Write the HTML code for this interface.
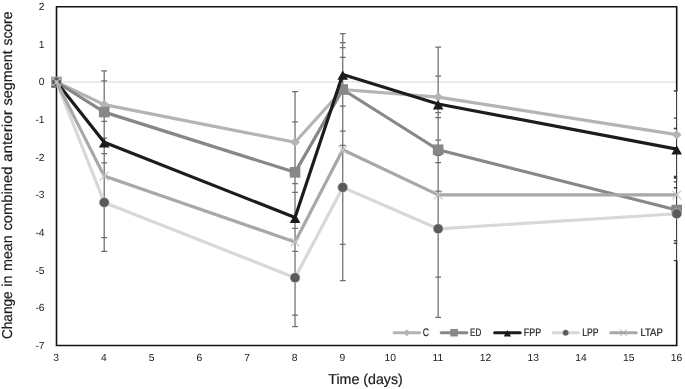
<!DOCTYPE html>
<html lang="en">
<head>
<meta charset="utf-8">
<title>Change in mean combined anterior segment score</title>
<style>
html,body{margin:0;padding:0;background:#fff;}
body{width:685px;height:389px;overflow:hidden;}
svg{display:block;will-change:transform;}
text{font-family:"Liberation Sans", "DejaVu Sans", sans-serif;fill:#1a1a1a;text-rendering:geometricPrecision;}
</style>
</head>
<body>
<svg width="685" height="389" viewBox="0 0 685 389">
<rect x="0" y="0" width="685" height="389" fill="#ffffff"/>
<defs><clipPath id="plot"><rect x="56.5" y="6.7" width="620.8" height="338.8"/></clipPath></defs>
<line x1="56.5" y1="81.99" x2="676.7" y2="81.99" stroke="#d6d6d6" stroke-width="1.1"/>
<path d="M676.7 91.2V6.7H56.5V345.5H676.7V260.4" fill="none" stroke="#111111" stroke-width="1.6" stroke-linejoin="miter"/>
<g stroke="#6e6e6e" stroke-width="1.25" fill="none" clip-path="url(#plot)">
<path d="M104.21 70.9V251.4M101.31 70.9H107.11M101.31 80.8H107.11M101.31 121.4H107.11M101.31 138.2H107.11M101.31 153.6H107.11M101.31 162.9H107.11M101.31 237.7H107.11M101.31 251.4H107.11"/>
<path d="M295.04 91.7V326.7M292.14 91.7H297.94M292.14 121.9H297.94M292.14 183.7H297.94M292.14 192.3H297.94M292.14 228.4H297.94M292.14 251.3H297.94M292.14 315H297.94M292.14 326.7H297.94"/>
<path d="M342.75 33.5V280.5M339.85 33.5H345.65M339.85 42.5H345.65M339.85 47.6H345.65M339.85 57.4H345.65M339.85 106H345.65M339.85 131.2H345.65M339.85 145.4H345.65M339.85 244.3H345.65M339.85 280.5H345.65"/>
<path d="M438.16 47.1V317.4M435.26 47.1H441.06M435.26 76.2H441.06M435.26 112.5H441.06M435.26 117.5H441.06M435.26 140H441.06M435.26 155.3H441.06M435.26 162.5H441.06M435.26 191H441.06M435.26 277H441.06M435.26 317.4H441.06"/>
<path d="M676.7 91V260.6M673.8 91H679.6M673.8 118.1H679.6M673.8 128.5H679.6M673.8 176.5H679.6M673.8 178H679.6M673.8 181.9H679.6M673.8 187.7H679.6M673.8 240.6H679.6M673.8 243.2H679.6M673.8 260.6H679.6" stroke="#3e3e3e" stroke-width="1.35"/>
</g>
<g><polyline points="56.5,81.99 104.21,104.58 295.04,142.22 342.75,89.52 438.16,97.05 676.7,134.69" fill="none" stroke="#b4b4b4" stroke-width="3.2" stroke-linejoin="round" stroke-linecap="round"/>
<path d="M56.5 77.19L61.3 81.99L56.5 86.79L51.7 81.99Z" fill="#b4b4b4"/>
<path d="M104.21 99.78L109.01 104.58L104.21 109.38L99.41 104.58Z" fill="#b4b4b4"/>
<path d="M295.04 137.42L299.84 142.22L295.04 147.02L290.24 142.22Z" fill="#b4b4b4"/>
<path d="M342.75 84.72L347.55 89.52L342.75 94.32L337.95 89.52Z" fill="#b4b4b4"/>
<path d="M438.16 92.25L442.96 97.05L438.16 101.85L433.36 97.05Z" fill="#b4b4b4"/>
<path d="M676.7 129.89L681.5 134.69L676.7 139.49L671.9 134.69Z" fill="#b4b4b4"/>
</g>
<g><polyline points="56.5,81.99 104.21,112.1 295.04,172.34 342.75,89.52 438.16,149.75 676.7,209.98" fill="none" stroke="#878787" stroke-width="3.2" stroke-linejoin="round" stroke-linecap="round"/>
<rect x="51.2" y="76.69" width="10.6" height="10.6" fill="#878787"/>
<rect x="98.91" y="106.8" width="10.6" height="10.6" fill="#878787"/>
<rect x="289.74" y="167.04" width="10.6" height="10.6" fill="#878787"/>
<rect x="337.45" y="84.22" width="10.6" height="10.6" fill="#878787"/>
<rect x="432.86" y="144.45" width="10.6" height="10.6" fill="#878787"/>
<rect x="671.4" y="204.68" width="10.6" height="10.6" fill="#878787"/>
</g>
<g><polyline points="56.5,81.99 104.21,142.22 295.04,217.51 342.75,74.46 438.16,104.01 676.7,149.18" fill="none" stroke="#1c1c1c" stroke-width="3.2" stroke-linejoin="round" stroke-linecap="round"/>
<path d="M56.5 77.99L61.8 87.39L51.2 87.39Z" fill="#1c1c1c"/>
<path d="M104.21 138.22L109.51 147.62L98.91 147.62Z" fill="#1c1c1c"/>
<path d="M295.04 213.51L300.34 222.91L289.74 222.91Z" fill="#1c1c1c"/>
<path d="M342.75 70.46L348.05 79.86L337.45 79.86Z" fill="#1c1c1c"/>
<path d="M438.16 100.01L443.46 109.41L432.86 109.41Z" fill="#1c1c1c"/>
<path d="M676.7 145.18L682 154.58L671.4 154.58Z" fill="#1c1c1c"/>
</g>
<g><polyline points="56.5,81.99 104.21,202.45 295.04,277.74 342.75,187.39 438.16,228.8 676.7,213.74" fill="none" stroke="#d8d8d8" stroke-width="3.2" stroke-linejoin="round" stroke-linecap="round"/>
<circle cx="56.5" cy="81.99" r="5" fill="#5a5a5a" stroke="#d8d8d8" stroke-width="0.6"/>
<circle cx="104.21" cy="202.45" r="5" fill="#5a5a5a" stroke="#d8d8d8" stroke-width="0.6"/>
<circle cx="295.04" cy="277.74" r="5" fill="#5a5a5a" stroke="#d8d8d8" stroke-width="0.6"/>
<circle cx="342.75" cy="187.39" r="5" fill="#5a5a5a" stroke="#d8d8d8" stroke-width="0.6"/>
<circle cx="438.16" cy="228.8" r="5" fill="#5a5a5a" stroke="#d8d8d8" stroke-width="0.6"/>
<circle cx="676.7" cy="213.74" r="5" fill="#5a5a5a" stroke="#d8d8d8" stroke-width="0.6"/>
</g>
<g><polyline points="56.5,81.99 104.21,176.1 295.04,241.98 342.75,149.75 438.16,194.92 676.7,194.92" fill="none" stroke="#a8a8a8" stroke-width="3.2" stroke-linejoin="round" stroke-linecap="round"/>
<path d="M52.1 77.59L60.9 86.39M60.9 77.59L52.1 86.39" stroke="#c6c6c6" stroke-width="1.1" fill="none"/>
<path d="M99.81 171.7L108.61 180.5M108.61 171.7L99.81 180.5" stroke="#c6c6c6" stroke-width="1.1" fill="none"/>
<path d="M290.64 237.58L299.44 246.38M299.44 237.58L290.64 246.38" stroke="#c6c6c6" stroke-width="1.1" fill="none"/>
<path d="M338.35 145.35L347.15 154.15M347.15 145.35L338.35 154.15" stroke="#c6c6c6" stroke-width="1.1" fill="none"/>
<path d="M433.76 190.52L442.56 199.32M442.56 190.52L433.76 199.32" stroke="#c6c6c6" stroke-width="1.1" fill="none"/>
<path d="M672.3 190.52L681.1 199.32M681.1 190.52L672.3 199.32" stroke="#c6c6c6" stroke-width="1.1" fill="none"/>
</g>
<g font-size="10.3" text-anchor="end">
<text x="44.6" y="10">2</text>
<text x="44.6" y="47.64">1</text>
<text x="44.6" y="85.29">0</text>
<text x="44.6" y="122.93">-1</text>
<text x="44.6" y="160.58">-2</text>
<text x="44.6" y="198.22">-3</text>
<text x="44.6" y="235.87">-4</text>
<text x="44.6" y="273.51">-5</text>
<text x="44.6" y="311.16">-6</text>
<text x="44.6" y="348.8">-7</text>
</g>
<g font-size="10.3" text-anchor="middle">
<text x="56.2" y="361.2">3</text>
<text x="103.91" y="361.2">4</text>
<text x="151.62" y="361.2">5</text>
<text x="199.32" y="361.2">6</text>
<text x="247.03" y="361.2">7</text>
<text x="294.74" y="361.2">8</text>
<text x="342.45" y="361.2">9</text>
<text x="390.15" y="361.2">10</text>
<text x="437.86" y="361.2">11</text>
<text x="485.57" y="361.2">12</text>
<text x="533.28" y="361.2">13</text>
<text x="580.98" y="361.2">14</text>
<text x="628.69" y="361.2">15</text>
<text x="676.4" y="361.2">16</text>
</g>
<text x="365.5" y="383.8" font-size="14.3" text-anchor="middle" textLength="74.5" stroke="#1a1a1a" stroke-width="0.2" lengthAdjust="spacingAndGlyphs">Time (days)</text>
<text transform="translate(12.4 339.5) rotate(-90)" font-size="14.3" stroke="#1a1a1a" stroke-width="0.2"><tspan x="0.5" textLength="47.6" lengthAdjust="spacingAndGlyphs">Change</tspan> <tspan x="52.72" textLength="11.1" lengthAdjust="spacingAndGlyphs">in</tspan> <tspan x="68.45" textLength="35.89" lengthAdjust="spacingAndGlyphs">mean</tspan> <tspan x="108.96" textLength="63.97" lengthAdjust="spacingAndGlyphs">combined</tspan> <tspan x="177.55" textLength="51.76" lengthAdjust="spacingAndGlyphs">anterior</tspan> <tspan x="233.93" textLength="55.37" lengthAdjust="spacingAndGlyphs">segment</tspan> <tspan x="293.93" textLength="34.07" lengthAdjust="spacingAndGlyphs">score</tspan></text>
<line x1="394.1" y1="332.7" x2="419.7" y2="332.7" stroke="#b4b4b4" stroke-width="3" stroke-linecap="round"/>
<path d="M406.9 329.24L410.36 332.7L406.9 336.16L403.44 332.7Z" fill="#b4b4b4"/>
<text x="422.7" y="336.4" font-size="10.9" textLength="6.2" lengthAdjust="spacingAndGlyphs" stroke="#1a1a1a" stroke-width="0.2">C</text>
<line x1="441.2" y1="332.7" x2="466.9" y2="332.7" stroke="#878787" stroke-width="3" stroke-linecap="round"/>
<rect x="450.29" y="328.94" width="7.53" height="7.53" fill="#878787"/>
<text x="470" y="336.4" font-size="10.9" textLength="11.3" lengthAdjust="spacingAndGlyphs" stroke="#1a1a1a" stroke-width="0.2">ED</text>
<line x1="494.6" y1="332.7" x2="520.2" y2="332.7" stroke="#1c1c1c" stroke-width="3" stroke-linecap="round"/>
<path d="M507.4 329.9L511.11 336.48L503.69 336.48Z" fill="#1c1c1c"/>
<text x="523.8" y="336.4" font-size="10.9" textLength="17.3" lengthAdjust="spacingAndGlyphs" stroke="#1a1a1a" stroke-width="0.2">FPP</text>
<line x1="553.1" y1="332.7" x2="578.2" y2="332.7" stroke="#d8d8d8" stroke-width="3" stroke-linecap="round"/>
<circle cx="565.65" cy="332.7" r="3" fill="#5a5a5a" stroke="#d8d8d8" stroke-width="0.36"/>
<text x="582.3" y="336.4" font-size="10.9" textLength="16.3" lengthAdjust="spacingAndGlyphs" stroke="#1a1a1a" stroke-width="0.2">LPP</text>
<line x1="610.7" y1="332.7" x2="636.3" y2="332.7" stroke="#a8a8a8" stroke-width="3" stroke-linecap="round"/>
<path d="M620.33 329.53L626.67 335.87M626.67 329.53L620.33 335.87" stroke="#a2a2a2" stroke-width="1" fill="none"/>
<text x="640.4" y="336.4" font-size="10.9" textLength="22.4" lengthAdjust="spacingAndGlyphs" stroke="#1a1a1a" stroke-width="0.2">LTAP</text>
</svg>
</body>
</html>
